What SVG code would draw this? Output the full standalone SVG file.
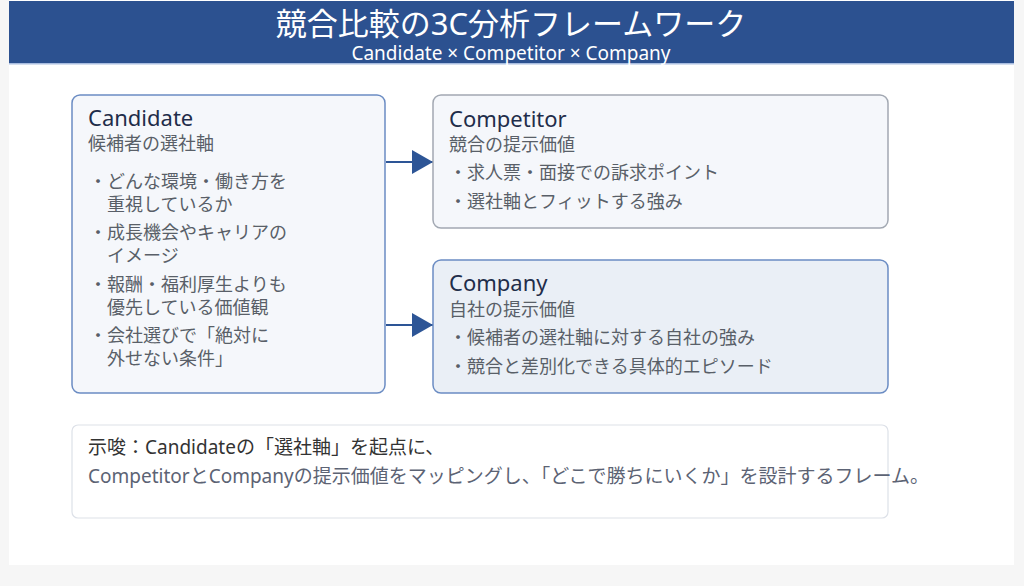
<svg xmlns="http://www.w3.org/2000/svg" width="1024" height="586" viewBox="0 0 1024 586">
<style>
text{font-family:"Noto Sans","Noto Sans CJK JP",sans-serif}
.ttl{font-size:22px;fill:#1f2d4a}
.sub{font-size:18px;fill:#595f68}
.bul{font-size:18px;fill:#595f68}
.node{stroke-width:1.5}
</style>
<defs>
<marker id="ah" markerUnits="userSpaceOnUse" markerWidth="22" markerHeight="26" refX="21" refY="12" orient="auto">
<path d="M0,0 L21,12 L0,24 Z" fill="#2d5596"/>
</marker>
</defs>
<rect x="0" y="0" width="1024" height="586" fill="#f6f6f6"/>
<rect x="9" y="0" width="1005" height="565" fill="#ffffff"/>
<g id="header">
<rect x="9" y="1" width="1005" height="62" fill="#2c5190"/>
<rect x="9" y="63" width="1005" height="1.5" fill="#a9bde0"/>
<text x="511" y="35" text-anchor="middle" font-size="31" fill="#ffffff" font-family="Noto Sans CJK JP, sans-serif">競合比較の3C分析フレームワーク</text>
<text x="511" y="60" text-anchor="middle" font-size="19" fill="#ffffff">Candidate × Competitor × Company</text>
</g>
<g id="connectors" stroke="#2d5596" stroke-width="2" fill="none">
<line x1="386" y1="162" x2="433" y2="162" marker-end="url(#ah)"/>
<line x1="386" y1="325" x2="433" y2="325" marker-end="url(#ah)"/>
</g>
<g id="candidate">
<rect class="node" x="72" y="95" width="313" height="298" rx="8" fill="#f5f7fb" stroke="#6b8cc3"/>
<text class="ttl" x="88" y="126">Candidate</text>
<text class="sub" x="88" y="150">候補者の選社軸</text>
<text class="bul" x="89" y="188">・どんな環境・働き方を</text>
<text class="bul" x="107" y="211">重視しているか</text>
<text class="bul" x="89" y="239">・成長機会やキャリアの</text>
<text class="bul" x="107" y="262">イメージ</text>
<text class="bul" x="89" y="291">・報酬・福利厚生よりも</text>
<text class="bul" x="107" y="314">優先している価値観</text>
<text class="bul" x="89" y="342">・会社選びで「絶対に</text>
<text class="bul" x="107" y="365">外せない条件」</text>
</g>
<g id="competitor">
<rect class="node" x="433" y="95" width="455" height="133" rx="8" fill="#f5f7fb" stroke="#a2a8b2"/>
<text class="ttl" x="449" y="127">Competitor</text>
<text class="sub" x="449" y="151">競合の提示価値</text>
<text class="bul" x="449" y="179">・求人票・面接での訴求ポイント</text>
<text class="bul" x="449" y="208">・選社軸とフィットする強み</text>
</g>
<g id="company">
<rect class="node" x="433" y="260" width="455" height="133" rx="8" fill="#eaeff6" stroke="#6b8cc3"/>
<text class="ttl" x="449" y="291">Company</text>
<text class="sub" x="449" y="316">自社の提示価値</text>
<text class="bul" x="449" y="344">・候補者の選社軸に対する自社の強み</text>
<text class="bul" x="449" y="373">・競合と差別化できる具体的エピソード</text>
</g>
<g id="implication">
<rect x="72" y="425" width="816" height="93" rx="6" fill="#ffffff" stroke="#dde1e8" stroke-width="1.2"/>
<text x="88" y="454" font-size="19" fill="#333333">示唆：Candidateの「選社軸」を起点に、</text>
<text x="88" y="483" font-size="19" fill="#5c6374">CompetitorとCompanyの提示価値をマッピングし、「どこで勝ちにいくか」を設計するフレーム。</text>
</g>
</svg>
